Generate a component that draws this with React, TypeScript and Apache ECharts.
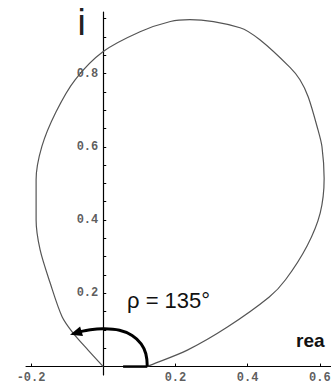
import React, { useEffect, useRef } from "react";
import * as echarts from "echarts";

// Locus of the frequency response in the complex plane (real, imaginary)
const curveRe = [
  0.122, 0.131, 0.233, 0.344, 0.46, 0.505, 0.565, 0.601, 0.612,
  0.606, 0.595, 0.568, 0.545, 0.518, 0.434, 0.379, 0.24, 0.186, 0.102, 0.0,
  -0.078, -0.131, -0.17, -0.186, -0.186, -0.175, -0.147, -0.114, -0.084, -0.042, 0.0,
];
const curveIm = [
  0.0, 0.004, 0.045, 0.108, 0.19, 0.237, 0.33, 0.419, 0.514,
  0.6, 0.646, 0.736, 0.783, 0.816, 0.892, 0.925, 0.947, 0.942, 0.914, 0.86,
  0.783, 0.695, 0.601, 0.51, 0.401, 0.319, 0.228, 0.136, 0.092, 0.045, 0.0,
];

// Phase arrow swept from the real axis
const phaseDeg = 135;
const arrowRe = [0.122, 0.118, 0.105, 0.08, 0.045, 0.0, -0.04, -0.065, -0.092];
const arrowIm = [0.0, 0.035, 0.062, 0.085, 0.099, 0.103, 0.1, 0.095, 0.087];
const baseRe = [0.055, 0.122];

const xTickValues = [-0.2, 0, 0.2, 0.4, 0.6];
const xLabelValues = [-0.2, 0.2, 0.4, 0.6];
const yTickValues = [
  0.05, 0.1, 0.15, 0.2, 0.25, 0.3, 0.35, 0.4, 0.45, 0.5, 0.55, 0.6, 0.65, 0.7,
  0.75, 0.8, 0.85, 0.9, 0.95,
];
const yLabelValues = [0.2, 0.4, 0.6, 0.8];

const monoFont = "Liberation Mono";
const tickLabelStyle = {
  show: true,
  fontFamily: monoFont,
  fontSize: 12,
  fontWeight: "bold",
  color: "#333",
};

export default function App() {
  const ref = useRef<HTMLDivElement>(null);

  useEffect(() => {
    if (!ref.current) return;
    const chart = echarts.init(ref.current, null, { renderer: "svg" });

    const option: any = {
      animation: false,
      backgroundColor: "#fff",
      grid: {
        left: 26,
        right: 0,
        top: 12,
        bottom: 12,
        containLabel: false,
        outerBoundsMode: "none",
      },
      xAxis: {
        type: "value",
        min: -0.214,
        max: 0.631,
        splitLine: { show: false },
        axisLine: { onZero: true, lineStyle: { color: "#000", width: 1 } },
        axisTick: {
          show: true,
          inside: true,
          length: 3,
          customValues: xTickValues,
          lineStyle: { color: "#000" },
        },
        axisLabel: { show: false },
      },
      yAxis: {
        type: "value",
        min: -0.023,
        max: 0.968,
        splitLine: { show: false },
        axisLine: { onZero: true, lineStyle: { color: "#000", width: 1.2 } },
        axisTick: {
          show: true,
          inside: true,
          length: 3,
          customValues: yTickValues,
          lineStyle: { color: "#000" },
        },
        axisLabel: { show: false },
      },
      series: [
        {
          type: "line",
          data: curveRe.map((x, i) => [x, curveIm[i]]),
          showSymbol: false,
          smooth: 0.3,
          lineStyle: { color: "#555", width: 1.2 },
          silent: true,
          z: 2,
        },
        {
          // tick labels along the real axis, placed at the axis crossing
          type: "scatter",
          data: xLabelValues.map((v) => [v, 0]),
          symbolSize: 0,
          silent: true,
          label: {
            ...tickLabelStyle,
            position: "bottom",
            distance: 5,
            formatter: (p: any) => p.value[0].toFixed(1),
          },
          z: 1,
        },
        {
          // tick labels along the imaginary axis
          type: "scatter",
          data: yLabelValues.map((v) => [0, v]),
          symbolSize: 0,
          silent: true,
          label: {
            ...tickLabelStyle,
            position: "left",
            distance: 5,
            formatter: (p: any) => p.value[1].toFixed(1),
          },
          z: 1,
        },
        {
          type: "custom",
          data: [[0, 0]],
          silent: true,
          z: 3,
          renderItem: (_params: any, api: any) => {
            const pts = arrowRe.map((x, i) => api.coord([x, arrowIm[i]]));
            const tip = pts[pts.length - 1];
            const prev = pts[pts.length - 2];
            const dx = tip[0] - prev[0];
            const dy = tip[1] - prev[1];
            const len = Math.hypot(dx, dy) || 1;
            const ux = dx / len;
            const uy = dy / len;
            const L = 12;
            const W = 5;
            const base = [tip[0] - ux * L, tip[1] - uy * L];
            const left = [base[0] - uy * W, base[1] + ux * W];
            const right = [base[0] + uy * W, base[1] - ux * W];
            const b0 = api.coord([baseRe[0], 0]);
            const b1 = api.coord([baseRe[1], 0]);
            return {
              type: "group",
              children: [
                {
                  type: "line",
                  shape: { x1: b0[0], y1: b0[1], x2: b1[0], y2: b1[1] },
                  style: { stroke: "#000", lineWidth: 2.5 },
                },
                {
                  type: "polyline",
                  shape: {
                    points: pts.slice(0, -1).concat([base]),
                    smooth: 0.4,
                  },
                  style: { stroke: "#000", lineWidth: 3, fill: null },
                },
                {
                  type: "polygon",
                  shape: { points: [tip, left, right] },
                  style: { fill: "#000" },
                },
              ],
            };
          },
        },
      ],
      graphic: [
        {
          type: "text",
          x: 77.5,
          y: 22,
          style: {
            text: "i",
            fontFamily: "Liberation Sans",
            fontSize: 37,
            fill: "#222",
            align: "left",
            verticalAlign: "middle",
          },
        },
        {
          type: "text",
          x: 296,
          y: 340.5,
          style: {
            text: "rea",
            fontFamily: "Liberation Sans",
            fontWeight: "bold",
            fontSize: 19,
            fill: "#111",
            align: "left",
            verticalAlign: "middle",
          },
        },
        {
          type: "text",
          x: 127,
          y: 300.5,
          style: {
            text: `ρ = ${phaseDeg}°`,
            fontFamily: "Liberation Sans",
            fontSize: 22,
            fill: "#111",
            align: "left",
            verticalAlign: "middle",
          },
        },
      ],
    };

    chart.setOption(option);
    return () => chart.dispose();
  }, []);

  return (
    <div
      ref={ref}
      style={{
        position: "fixed",
        left: 0,
        top: 0,
        width: 331,
        height: 387,
        background: "#fff",
      }}
    />
  );
}
